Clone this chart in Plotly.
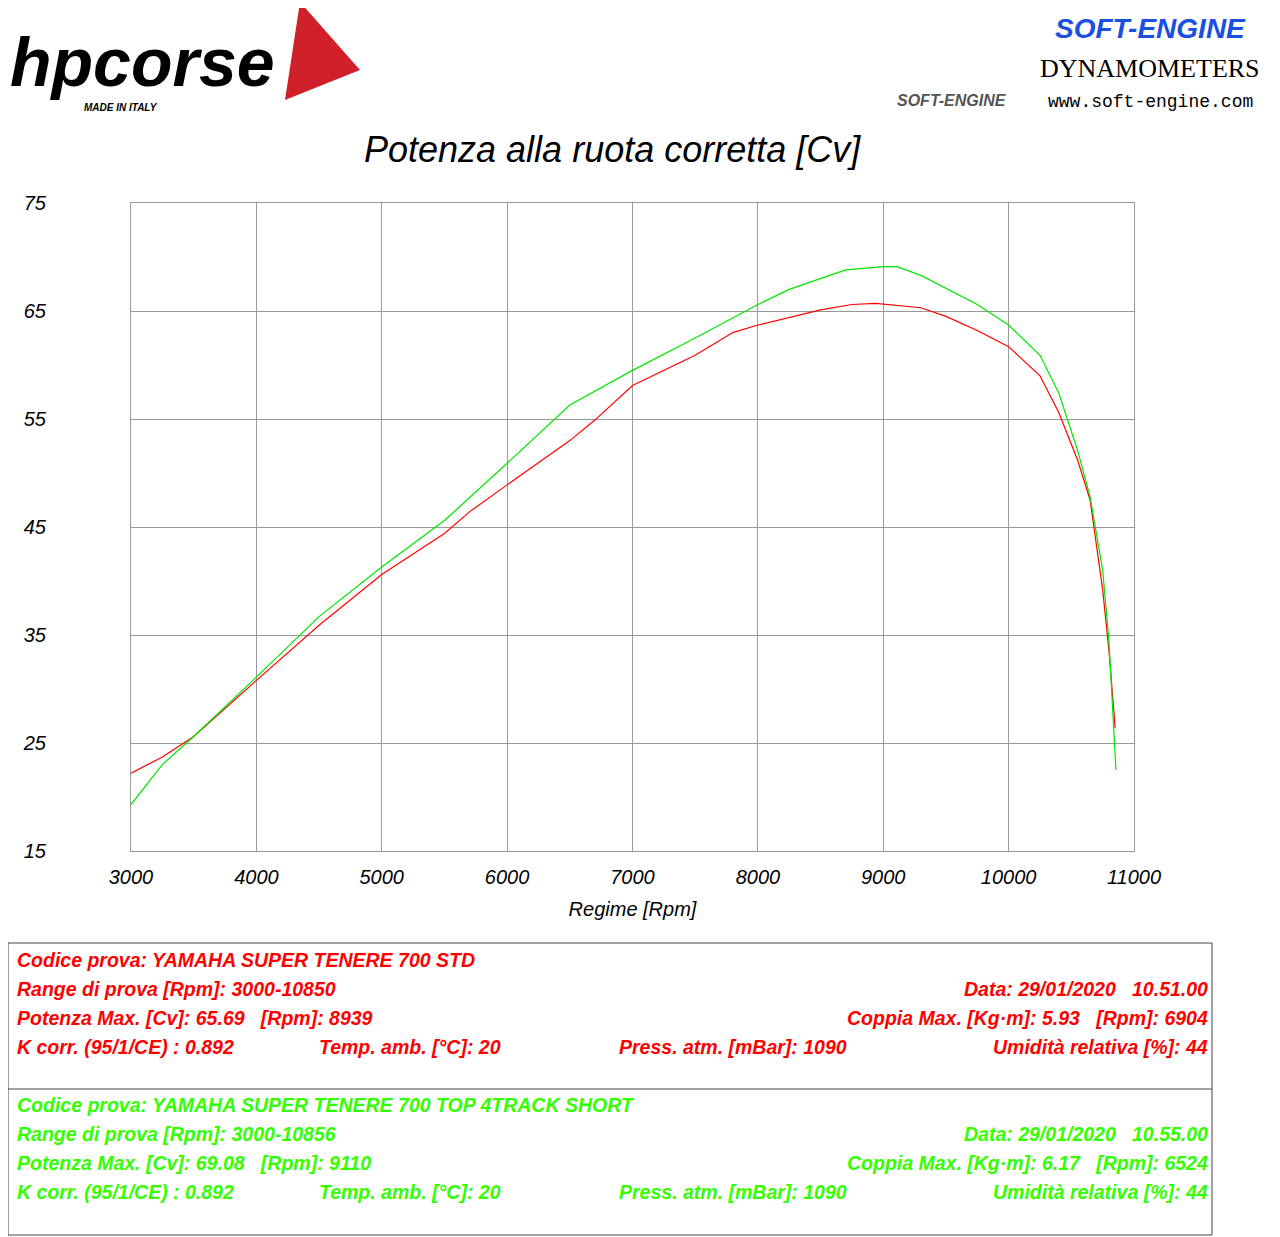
import plotly.graph_objects as go

rpm_std = [3000, 3250, 3500, 4000, 4500, 5000, 5500, 5700, 6000, 6500, 6700, 7000, 7500, 7800,
           8000, 8500, 8750, 8939, 9300, 9500, 9750, 10000, 10250, 10400, 10550, 10650, 10750,
           10800, 10850]
cv_std = [22.2, 23.7, 25.6, 30.8, 35.9, 40.6, 44.4, 46.4, 48.9, 53.0, 54.9, 58.1, 60.9, 63.0,
          63.7, 65.1, 65.6, 65.7, 65.3, 64.5, 63.2, 61.7, 59.0, 55.6, 51.2, 47.5, 39.2, 33.6, 26.4]

rpm_top = [3000, 3250, 3500, 4000, 4500, 5000, 5500, 6000, 6500, 7000, 7500, 8000, 8250, 8700,
           9000, 9110, 9300, 9500, 9750, 10000, 10250, 10400, 10550, 10650, 10750, 10800, 10856]
cv_top = [19.3, 23.0, 25.6, 31.1, 36.7, 41.3, 45.6, 50.9, 56.3, 59.5, 62.5, 65.6, 67.0, 68.8,
          69.1, 69.1, 68.3, 67.1, 65.6, 63.7, 60.9, 57.4, 52.1, 47.8, 41.0, 34.5, 22.5]

x_ticks = list(range(3000, 11001, 1000))
x_labels = [str(v) for v in x_ticks]
y_ticks = [15, 25, 35, 45, 55, 65, 75]

info_std = ["Codice prova: YAMAHA SUPER TENERE 700 STD",
            "Range di prova [Rpm]: 3000-10850", "Data: 29/01/2020   10.51.00",
            "Potenza Max. [Cv]: 65.69   [Rpm]: 8939", "Coppia Max. [Kg·m]: 5.93   [Rpm]: 6904",
            "K corr. (95/1/CE) : 0.892", "Temp. amb. [°C]: 20", "Press. atm. [mBar]: 1090",
            "Umidità relativa [%]: 44"]
info_top = ["Codice prova: YAMAHA SUPER TENERE 700 TOP 4TRACK SHORT",
            "Range di prova [Rpm]: 3000-10856", "Data: 29/01/2020   10.55.00",
            "Potenza Max. [Cv]: 69.08   [Rpm]: 9110", "Coppia Max. [Kg·m]: 6.17   [Rpm]: 6524",
            "K corr. (95/1/CE) : 0.892", "Temp. amb. [°C]: 20", "Press. atm. [mBar]: 1090",
            "Umidità relativa [%]: 44"]

OFF = 8  # page offset of the figure
L, T, W, H = 131, 203, 1003, 648


def px(x):
    return (x - L) / W


def py(y):
    return (T + H - y) / H


fig = go.Figure()
fig.add_trace(go.Scatter(x=rpm_std, y=cv_std, mode="lines", line=dict(color="#ff0000", width=1.2)))
fig.add_trace(go.Scatter(x=rpm_top, y=cv_top, mode="lines", line=dict(color="#00e600", width=1.2)))

fig.update_layout(
    width=1280, height=1237, showlegend=False,
    paper_bgcolor="white", plot_bgcolor="white",
    margin=dict(l=L - OFF, r=1280 - L - W + OFF, t=T - OFF, b=1237 - T - H + OFF),
    font=dict(family="Liberation Sans, Arial, sans-serif", color="black"),
)
axis_font = dict(size=20, style="italic", color="black")
fig.update_xaxes(range=[3000, 11000], tickvals=x_ticks, ticktext=x_labels, showgrid=True,
                 gridcolor="#999", gridwidth=1, showline=True, linecolor="#999", mirror=True,
                 tickfont=axis_font, ticks="", ticklabelstandoff=8,
                 title=dict(text="Regime [Rpm]", font=axis_font, standoff=14))
fig.update_yaxes(range=[15, 75], tickvals=y_ticks, showgrid=True, gridcolor="#999",
                 gridwidth=1, showline=True, linecolor="#999", mirror=True, tickfont=axis_font,
                 ticks="", ticklabelstandoff=80)

ann = []
ann.append(dict(x=px(612), y=py(150), text="<i>Potenza alla ruota corretta [Cv]</i>",
                font=dict(size=36)))
# logos as text
ann.append(dict(x=px(8), y=py(62), text="<b><i>hpcorse</i></b>", xanchor="left",
                font=dict(size=68, family="Liberation Sans, Arial", color="black")))
ann.append(dict(x=px(82), y=py(107), text="<b><i>MADE IN ITALY</i></b>", xanchor="left",
                font=dict(size=10)))
ann.append(dict(x=px(1150), y=py(28), text="<b><i>SOFT-ENGINE</i></b>",
                font=dict(size=28, color="#1a4fe0")))
ann.append(dict(x=px(1150), y=py(68), text="DYNAMOMETERS",
                font=dict(size=26, family="Liberation Serif, serif")))
ann.append(dict(x=px(1150), y=py(102), text="www.soft-engine.com",
                font=dict(size=18, family="Liberation Mono, monospace")))
ann.append(dict(x=px(952), y=py(100), text="<b><i>SOFT-ENGINE</i></b>",
                font=dict(size=16, color="#555")))

tf = "Liberation Sans, sans-serif"


def block(info, color, y0):
    f = dict(size=19.5, family=tf, color=color)
    rows = [(info[0], None), (info[1], info[2]), (info[3], info[4])]
    for i, (lt, rt) in enumerate(rows):
        yy = py(y0 + 29 * i)
        ann.append(dict(x=px(15), y=yy, text="<b><i>%s</i></b>" % lt, xanchor="left", font=f))
        if rt:
            ann.append(dict(x=px(1210), y=yy, text="<b><i>%s</i></b>" % rt, xanchor="right", font=f))
    yy = py(y0 + 87)
    ann.append(dict(x=px(15), y=yy, text="<b><i>%s</i></b>" % info[5], xanchor="left", font=f))
    ann.append(dict(x=px(317), y=yy, text="<b><i>%s</i></b>" % info[6], xanchor="left", font=f))
    ann.append(dict(x=px(617), y=yy, text="<b><i>%s</i></b>" % info[7], xanchor="left", font=f))
    ann.append(dict(x=px(1210), y=yy, text="<b><i>%s</i></b>" % info[8], xanchor="right", font=f))


block(info_std, "#ff0000", 960)
block(info_top, "#33ff00", 1105)

for a in ann:
    a.update(xref="paper", yref="paper", showarrow=False)
    a.setdefault("xanchor", "center")
    a["yanchor"] = "middle"
fig.update_layout(annotations=ann)

fig.add_shape(type="rect", xref="paper", yref="paper", x0=px(8), x1=px(1212), y0=py(943),
              y1=py(1235), line=dict(color="#444", width=1))
fig.add_shape(type="line", xref="paper", yref="paper", x0=px(8), x1=px(1212), y0=py(1089),
              y1=py(1089), line=dict(color="#444", width=1))
# red swoosh of the hp logo
fig.add_shape(type="path", xref="paper", yref="paper",
              path="M %f %f L %f %f L %f %f Z" % (px(300), py(2), px(360), py(70), px(285), py(100)),
              fillcolor="#d0202a", line=dict(width=0))

fig.write_html("out.html")
